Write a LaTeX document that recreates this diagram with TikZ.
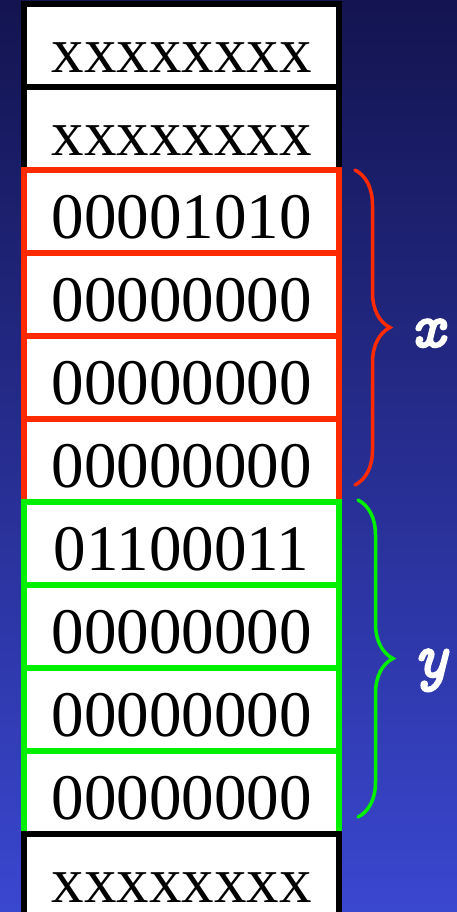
\documentclass[tikz,border=0pt]{standalone}
\usepackage{fontspec}
\setmainfont{Liberation Serif}
\usetikzlibrary{decorations.pathreplacing}
\definecolor{bgtop}{HTML}{131450}
\definecolor{bgbot}{HTML}{3A47D0}
\definecolor{memred}{HTML}{FF2A00}
\definecolor{memgreen}{HTML}{00F000}
\newcommand{\heavytext}[1]{\special{pdf:literal direct q 2 Tr 1.8 w 1 1 1 RG}#1\special{pdf:literal direct Q}}
\begin{document}
\begin{tikzpicture}[x=1pt,y=-1pt,
  cell/.style={draw=black, line width=6pt, fill=white, minimum width=315pt,
    minimum height=83pt, inner sep=0pt, text height=68.5pt, text depth=14.5pt,
    font=\fontsize{65}{70}\selectfont},
  redcell/.style={cell, draw=memred},
  greencell/.style={cell, draw=memgreen},
  membrace/.style={decorate, decoration={brace, amplitude=35pt}, line width=3.5pt, line cap=round},
  lbl/.style={text=white, anchor=base, inner sep=0pt, font=\ttfamily\itshape\fontsize{64}{70}\selectfont}]
\useasboundingbox (0,0) rectangle (457,912);
\clip (0,0) rectangle (457,912);
\shade[top color=bgtop, bottom color=bgbot] (0,0) rectangle (457,912);
\node[cell] (c1) at (181.5,45.5) {xxxxxxxx};
\node[cell] (c2) at (181.5,128.5) {xxxxxxxx};
\node[redcell] (c3) at (181.5,211.5) {00001010};
\node[redcell] (c4) at (181.5,294.5) {00000000};
\node[redcell] (c5) at (181.5,377.5) {00000000};
\node[redcell] (c6) at (181.5,460.5) {00000000};
\node[greencell] (c7) at (181.5,543.5) {01100011};
\node[greencell] (c8) at (181.5,626.5) {00000000};
\node[greencell] (c9) at (181.5,709.5) {00000000};
\node[greencell] (c10) at (181.5,792.5) {00000000};
\node[cell] (c11) at (181.5,875.5) {xxxxxxxx};
\coordinate (xt) at (355,170);
\coordinate (xb) at (355,485);
\coordinate (yt) at (358,500);
\coordinate (yb) at (358,817);
\draw[membrace, memred] (xt) -- (xb);
\draw[membrace, memgreen] (yt) -- (yb);
\node[lbl] (xl) at (428,347) {\heavytext{x}};
\node[lbl] (yl) at (431,677) {\heavytext{y}};
\end{tikzpicture}
\end{document}
